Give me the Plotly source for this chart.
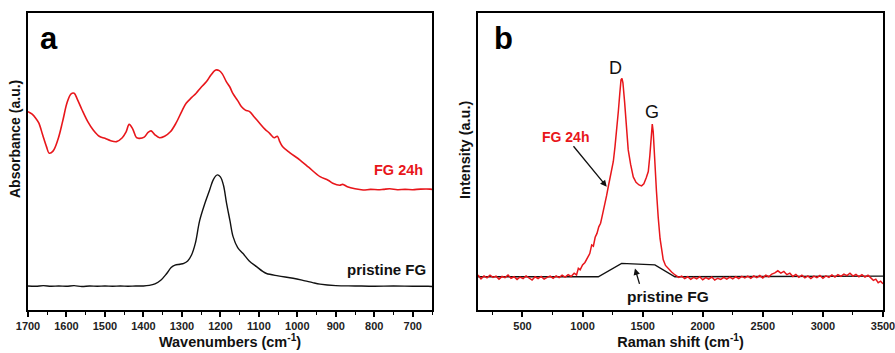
import plotly.graph_objects as go

# ---------------- Panel a: FTIR ----------------
ftir_pristine_x = [1700, 1680, 1660, 1640, 1620, 1600, 1580, 1560, 1540, 1520, 1500, 1480, 1460, 1440,
                   1420, 1400, 1385, 1370, 1355, 1340, 1328, 1318, 1305, 1295, 1285, 1275, 1265, 1254,
                   1240, 1228, 1218, 1208, 1200, 1192, 1184, 1175, 1167, 1155, 1141, 1125, 1106, 1090,
                   1080, 1050, 1011, 980, 960, 941, 900, 850, 800, 750, 700, 660, 650]
ftir_pristine_y = [0.081, 0.080, 0.082, 0.080, 0.081, 0.080, 0.082, 0.079, 0.081, 0.080, 0.081, 0.080,
                   0.081, 0.080, 0.081, 0.081, 0.083, 0.088, 0.100, 0.122, 0.143, 0.151, 0.154, 0.157,
                   0.165, 0.185, 0.225, 0.300, 0.360, 0.404, 0.440, 0.455, 0.448, 0.420, 0.360, 0.300,
                   0.247, 0.210, 0.190, 0.165, 0.146, 0.130, 0.123, 0.115, 0.107, 0.098, 0.092, 0.087,
                   0.082, 0.081, 0.080, 0.081, 0.080, 0.080, 0.079]

ftir_fg24_x = [1700, 1690, 1680, 1672, 1662, 1652, 1645, 1635, 1622, 1610, 1598, 1588, 1580, 1572, 1560,
               1545, 1530, 1515, 1500, 1485, 1470, 1455, 1445, 1437, 1428, 1418, 1410, 1398, 1388, 1380,
               1370, 1358, 1345, 1330, 1315, 1300, 1289, 1275, 1263, 1250, 1236, 1225, 1212, 1203, 1195,
               1185, 1175, 1168, 1155, 1145, 1135, 1124, 1112, 1098, 1085, 1072, 1060, 1052, 1045, 1038,
               1020, 993, 970, 941, 920, 908, 890, 882, 870, 850, 829, 810, 790, 777, 760, 740, 720, 700,
               680, 655, 650]
ftir_fg24_y = [0.668, 0.660, 0.646, 0.630, 0.590, 0.550, 0.528, 0.535, 0.575, 0.635, 0.700, 0.728, 0.730,
               0.710, 0.675, 0.635, 0.605, 0.585, 0.578, 0.570, 0.567, 0.580, 0.600, 0.625, 0.610, 0.580,
               0.578, 0.582, 0.598, 0.603, 0.590, 0.580, 0.585, 0.600, 0.630, 0.670, 0.696, 0.715, 0.730,
               0.750, 0.769, 0.790, 0.808, 0.806, 0.795, 0.770, 0.750, 0.730, 0.705, 0.684, 0.673, 0.668,
               0.650, 0.629, 0.610, 0.595, 0.580, 0.585, 0.565, 0.550, 0.530, 0.505, 0.480, 0.449, 0.437,
               0.427, 0.420, 0.423, 0.415, 0.408, 0.404, 0.406, 0.405, 0.406, 0.408, 0.405, 0.406, 0.405,
               0.407, 0.407, 0.406]

ftir_ticks = [1700, 1600, 1500, 1400, 1300, 1200, 1100, 1000, 900, 800, 700]

# ---------------- Panel b: Raman ----------------
raman_pristine_x = [130, 1131, 1325, 1400, 1500, 1602, 1768, 3500]
raman_pristine_y = [0.112, 0.112, 0.157, 0.155, 0.154, 0.152, 0.112, 0.114]

raman_fg24_x = [130, 155, 180, 205, 230, 255, 280, 305, 330, 355, 380, 405, 430, 455, 480, 505, 530, 555,
                580, 605, 630, 655, 680, 705, 730, 755, 780, 805, 830, 855, 880, 905, 930, 950, 965, 980,
                1000, 1020, 1040, 1060, 1076, 1090, 1105, 1120, 1135, 1150, 1160, 1175, 1190, 1200, 1214,
                1228, 1242, 1256, 1270, 1284, 1298, 1310, 1320, 1328, 1336, 1350, 1365, 1380, 1400, 1422,
                1445, 1470, 1491, 1510, 1530, 1547, 1560, 1572, 1580, 1588, 1602, 1615, 1630, 1645, 1660,
                1671, 1690, 1710, 1741, 1770, 1800, 1825, 1850, 1875, 1900, 1925, 1950, 1975, 2000, 2025,
                2050, 2075, 2100, 2125, 2150, 2175, 2200, 2225, 2250, 2275, 2300, 2325, 2350, 2375, 2400,
                2425, 2450, 2475, 2500, 2525, 2550, 2575, 2600, 2625, 2650, 2675, 2700, 2725, 2750, 2775,
                2800, 2825, 2850, 2875, 2900, 2925, 2950, 2975, 3000, 3025, 3050, 3075, 3100, 3125, 3150,
                3175, 3200, 3225, 3250, 3275, 3300, 3325, 3350, 3375, 3400, 3420, 3440, 3460, 3480, 3500]
raman_fg24_y = [0.118, 0.105, 0.115, 0.108, 0.117, 0.110, 0.114, 0.104, 0.113, 0.109, 0.118, 0.107, 0.112,
                0.103, 0.111, 0.106, 0.115, 0.108, 0.101, 0.112, 0.106, 0.113, 0.104, 0.110, 0.114, 0.107,
                0.115, 0.109, 0.117, 0.111, 0.119, 0.113, 0.124, 0.118, 0.140, 0.135, 0.152, 0.160, 0.178,
                0.190, 0.219, 0.215, 0.245, 0.258, 0.280, 0.292, 0.310, 0.335, 0.360, 0.385, 0.415, 0.440,
                0.470, 0.500, 0.550, 0.600, 0.670, 0.730, 0.775, 0.780, 0.765, 0.700, 0.610, 0.539, 0.490,
                0.448, 0.430, 0.421, 0.418, 0.425, 0.445, 0.466, 0.520, 0.595, 0.626, 0.600, 0.480, 0.400,
                0.310, 0.240, 0.200, 0.170, 0.150, 0.140, 0.128, 0.118, 0.110, 0.114, 0.106, 0.112, 0.103,
                0.110, 0.105, 0.112, 0.102, 0.109, 0.104, 0.111, 0.101, 0.107, 0.103, 0.110, 0.104, 0.111,
                0.105, 0.112, 0.106, 0.113, 0.108, 0.114, 0.107, 0.115, 0.109, 0.116, 0.108, 0.117, 0.112,
                0.121, 0.125, 0.132, 0.124, 0.130, 0.119, 0.124, 0.113, 0.120, 0.110, 0.117, 0.108, 0.115,
                0.106, 0.114, 0.109, 0.116, 0.107, 0.115, 0.110, 0.118, 0.111, 0.119, 0.113, 0.121, 0.116,
                0.124, 0.114, 0.120, 0.112, 0.119, 0.111, 0.117, 0.108, 0.100, 0.104, 0.092, 0.097, 0.088]

raman_ticks = [500, 1000, 1500, 2000, 2500, 3000, 3500]
raman_minor_ticks = [250, 750, 1250, 1750, 2250, 2750, 3250]

RED = "#e8161b"
FONT = "Liberation Sans, Arial, sans-serif"

fig = go.Figure()
fig.add_trace(go.Scatter(x=ftir_fg24_x, y=ftir_fg24_y, mode="lines", line=dict(color=RED, width=1.6),
                         line_shape="spline", xaxis="x", yaxis="y", showlegend=False))
fig.add_trace(go.Scatter(x=ftir_pristine_x, y=ftir_pristine_y, mode="lines", line=dict(color="#111111", width=1.4),
                         line_shape="spline", xaxis="x", yaxis="y", showlegend=False))
fig.add_trace(go.Scatter(x=raman_pristine_x, y=raman_pristine_y, mode="lines", line=dict(color="#111111", width=1.4),
                         xaxis="x2", yaxis="y2", showlegend=False))
fig.add_trace(go.Scatter(x=raman_fg24_x, y=raman_fg24_y, mode="lines", line=dict(color=RED, width=1.5),
                         xaxis="x2", yaxis="y2", showlegend=False))

axis_common = dict(showline=True, linecolor="black", linewidth=2, mirror=True, showgrid=False,
                   zeroline=False, automargin=False)
tickfont = dict(family=FONT, size=11, color="#222222", weight="bold")
titlefont = dict(family=FONT, size=14.5, color="#111111", weight="bold")

fig.update_layout(
    width=895, height=353, margin=dict(l=0, r=0, t=0, b=0, autoexpand=False),
    paper_bgcolor="white", plot_bgcolor="white",
    font=dict(family=FONT),
    xaxis=dict(domain=[28 / 895, 432 / 895], range=[1700, 650], tickvals=ftir_ticks,
               ticks="outside", ticklen=5, tickwidth=1.5, tickcolor="black",
               minor=dict(dtick=50, ticks="outside", ticklen=3, tickwidth=1.2, tickcolor="black"),
               tickfont=tickfont, ticklabeloverflow="allow",
               title=dict(text="Wavenumbers (cm<sup>-1</sup>)", font=titlefont, standoff=2),
               anchor="y", **axis_common),
    yaxis=dict(domain=[1 - 310 / 353, 1 - 13 / 353], range=[0, 1], showticklabels=False, ticks="",
               anchor="x", **axis_common),
    xaxis2=dict(domain=[478 / 895, 883 / 895], range=[130, 3500], tickvals=raman_ticks,
                ticks="outside", ticklen=5, tickwidth=1.5, tickcolor="black",
                minor=dict(tickvals=raman_minor_ticks, ticks="outside", ticklen=3,
                           tickwidth=1.2, tickcolor="black"),
                tickfont=tickfont, ticklabeloverflow="allow",
                title=dict(text="Raman shift (cm<sup>-1</sup>)", font=titlefont, standoff=2),
                anchor="y2", **axis_common),
    yaxis2=dict(domain=[1 - 310 / 353, 1 - 13 / 353], range=[0, 1], showticklabels=False, ticks="",
                anchor="x2", **axis_common),
)

C = dict(xanchor="center", yanchor="middle")
ann = []
# y-axis titles
ann.append(dict(text="Absorbance (a.u.)", xref="paper", yref="paper", x=15 / 895, y=1 - 139 / 353,
                textangle=-90, showarrow=False, **C,
                font=dict(family=FONT, size=14, color="#111111", weight="bold")))
ann.append(dict(text="Intensity (a.u.)", xref="paper", yref="paper", x=465 / 895, y=1 - 150 / 353,
                textangle=-90, showarrow=False, **C,
                font=dict(family=FONT, size=14.5, color="#111111", weight="bold")))
# panel letters
ann.append(dict(text="a", xref="paper", yref="paper", x=48.5 / 895, y=1 - 38 / 353, showarrow=False, **C,
                font=dict(family=FONT, size=31, color="black", weight="bold")))
ann.append(dict(text="b", xref="paper", yref="paper", x=504 / 895, y=1 - 38 / 353, showarrow=False, **C,
                font=dict(family=FONT, size=31, color="black", weight="bold")))
# panel a labels
ann.append(dict(text="FG 24h", xref="x", yref="y", x=738, y=0.47, showarrow=False, **C,
                font=dict(family=FONT, size=14.5, color=RED, weight="bold")))
ann.append(dict(text="pristine FG", xref="x", yref="y", x=768, y=0.135, showarrow=False, **C,
                font=dict(family=FONT, size=15, color="#111111", weight="bold")))
# panel b labels
ann.append(dict(text="D", xref="x2", yref="y2", x=1270, y=0.815, showarrow=False, **C,
                font=dict(family=FONT, size=18, color="#111111")))
ann.append(dict(text="G", xref="x2", yref="y2", x=1575, y=0.667, showarrow=False, **C,
                font=dict(family=FONT, size=18, color="#111111")))
ann.append(dict(text="FG 24h", xref="x2", yref="y2", x=1201, y=0.415, ax=-41, ay=-50, showarrow=True,
                arrowhead=2, arrowsize=1, arrowwidth=1.3, arrowcolor="#111111",
                font=dict(family=FONT, size=14, color=RED, weight="bold")))
ann.append(dict(text="pristine FG", xref="x2", yref="y2", x=1711, y=0.047, showarrow=False, **C,
                font=dict(family=FONT, size=15.5, color="#111111", weight="bold")))
ann.append(dict(text="", xref="x2", yref="y2", x=1436, y=0.140, ax=5, ay=17, showarrow=True,
                arrowhead=2, arrowsize=1, arrowwidth=1.3, arrowcolor="#111111"))
fig.update_layout(annotations=ann)

fig.write_html("out.html", config={"displayModeBar": False},
               post_script="document.body.style.margin='0';document.body.style.overflow='hidden';")
